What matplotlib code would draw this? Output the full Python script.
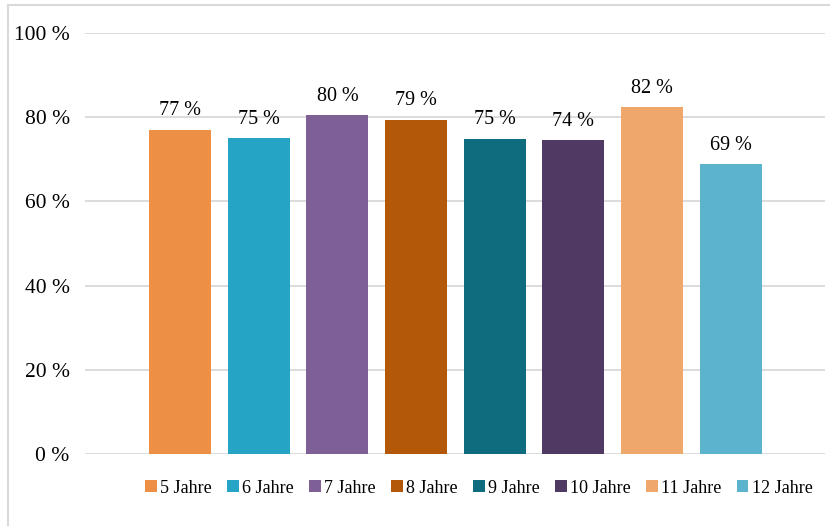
import matplotlib.pyplot as plt
from matplotlib.lines import Line2D

plt.rcParams['font.family'] = ['Liberation Serif', 'DejaVu Serif']

# data
groups = ['5 Jahre', '6 Jahre', '7 Jahre', '8 Jahre', '9 Jahre', '10 Jahre', '11 Jahre', '12 Jahre']
values = [77.0, 75.0, 80.4, 79.3, 74.9, 74.5, 82.3, 68.8]
colors = ['#ED8F45', '#25A4C5', '#7E6097', '#B25808', '#0F6B7E', '#503A63', '#F0A76B', '#5CB3CE']
yticks = [0, 20, 40, 60, 80, 100]

fig = plt.figure(figsize=(8.3, 5.26), dpi=100)
ax = fig.add_axes([0.1024, 0.1369, 0.8916, 0.8004])

for i, (g, v, c) in enumerate(zip(groups, values, colors)):
    ax.bar(i, v, width=0.79, color=c, label=g, zorder=3)
    ax.annotate(f'{round(v)} %', (i, v), xytext=(0, 7), textcoords='offset points',
                ha='center', va='bottom', fontsize=14.5)

ax.set_xlim(-1.21, 8.2)
ax.set_ylim(0, 100)
ax.set_yticks(yticks)
ax.set_yticklabels([f'{t} %' for t in yticks], fontsize=15.5)
ax.set_xticks([])
ax.tick_params(axis='y', length=0, pad=11)
ax.grid(axis='y', color='#d9d9d9', linewidth=1.3, zorder=0)
for s in ax.spines.values():
    s.set_visible(False)

fig.legend(loc='center', bbox_to_anchor=(478.5 / 830, 0.072), ncol=8, fontsize=13,
           frameon=False, handlelength=0.66, handleheight=0.66, handletextpad=0.17,
           columnspacing=0.85, borderaxespad=0, borderpad=0)

# chart border (left and top)
fig.add_artist(Line2D([8 / 830, 8 / 830], [0, 1 - 5 / 526], color='#d9d9d9', lw=1.5, transform=fig.transFigure))
fig.add_artist(Line2D([8 / 830, 1], [1 - 5 / 526, 1 - 5 / 526], color='#d9d9d9', lw=1.5, transform=fig.transFigure))

fig.savefig('out.png', dpi=100)
